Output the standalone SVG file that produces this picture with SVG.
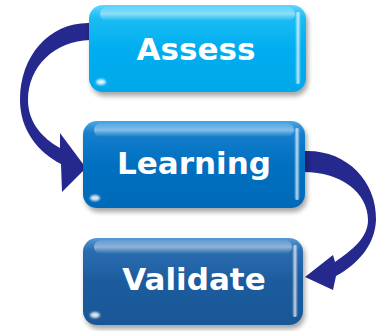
<svg xmlns="http://www.w3.org/2000/svg" width="385" height="331" viewBox="0 0 385 331">
<defs>
<style>
.lbl{font-family:"DejaVu Sans","Verdana",sans-serif;font-weight:bold;font-size:31px;fill:#fff;text-anchor:middle}
.arrow{fill:#25288c}
.shadow{fill:#000;opacity:0.35;filter:url(#blur)}
.hl{fill:url(#topHl)}
.edge{fill:url(#edgeHl)}
.spot{fill:#fff;opacity:0.85;filter:url(#blur1)}
</style>
<filter id="blur" x="-10%" y="-10%" width="120%" height="130%"><feGaussianBlur stdDeviation="2.5"/></filter>
<filter id="blur1" x="-50%" y="-50%" width="200%" height="200%"><feGaussianBlur stdDeviation="1.2"/></filter>
<linearGradient id="gA" x1="0" y1="0" x2="0" y2="1">
<stop offset="0" stop-color="#5fd6ff"/><stop offset="0.14" stop-color="#1cbcf4"/><stop offset="0.5" stop-color="#00aeef"/><stop offset="1" stop-color="#00a8ea"/>
</linearGradient>
<linearGradient id="gL" x1="0" y1="0" x2="0" y2="1">
<stop offset="0" stop-color="#4aa6e8"/><stop offset="0.14" stop-color="#147fcd"/><stop offset="0.5" stop-color="#0070c0"/><stop offset="1" stop-color="#006ab8"/>
</linearGradient>
<linearGradient id="gV" x1="0" y1="0" x2="0" y2="1">
<stop offset="0" stop-color="#5a98d8"/><stop offset="0.14" stop-color="#2a6db0"/><stop offset="0.5" stop-color="#1c5c9e"/><stop offset="1" stop-color="#195796"/>
</linearGradient>
<linearGradient id="topHl" x1="0" y1="0" x2="0" y2="1">
<stop offset="0" stop-color="#fff" stop-opacity="0.1"/><stop offset="0.5" stop-color="#fff" stop-opacity="0.45"/><stop offset="1" stop-color="#fff" stop-opacity="0"/>
</linearGradient>
<linearGradient id="edgeHl" x1="0" y1="0" x2="1" y2="0">
<stop offset="0" stop-color="#fff" stop-opacity="0"/><stop offset="0.5" stop-color="#fff" stop-opacity="0.75"/><stop offset="1" stop-color="#fff" stop-opacity="0"/>
</linearGradient>
</defs>
<g id="connectors">
<path class="arrow" d="M 90,23 C 50,22 20,55 20,100 C 20,130 38,152 61,164 L 62,192 L 86,168 L 60,133 L 60,148 C 42,138 28,122 28,100 C 28,66 55,41 90,40 Z"/>
<path class="arrow" d="M 304,151 C 345,149 377,180 376,220 C 375,245 358,264 336,276 L 333,290 L 305,277 L 333,255 L 335,262 C 352,250 368,238 368,220 C 368,192 340,172 304,172 Z"/>
</g>
<g id="assess">
<rect class="shadow" x="91" y="9" width="217" height="87" rx="14"/>
<rect x="89" y="5" width="217" height="87" rx="14" fill="url(#gA)"/>
<rect class="hl" x="100" y="7" width="195" height="14" rx="7"/>
<rect class="edge" x="295" y="12" width="6" height="72" rx="3"/>
<ellipse class="spot" cx="101" cy="82" rx="5" ry="3"/>
<text class="lbl" x="196" y="60">Assess</text>
</g>
<g id="learning">
<rect class="shadow" x="85" y="125" width="222" height="87" rx="14"/>
<rect x="83" y="121" width="222" height="87" rx="14" fill="url(#gL)"/>
<rect class="hl" x="94" y="123" width="200" height="14" rx="7"/>
<rect class="edge" x="294" y="128" width="6" height="72" rx="3"/>
<ellipse class="spot" cx="95" cy="198" rx="5" ry="3"/>
<text class="lbl" x="194" y="174">Learning</text>
</g>
<g id="validate">
<rect class="shadow" x="85" y="242" width="220" height="87" rx="14"/>
<rect x="83" y="238" width="220" height="87" rx="14" fill="url(#gV)"/>
<rect class="hl" x="94" y="240" width="198" height="14" rx="7"/>
<rect class="edge" x="292" y="245" width="6" height="72" rx="3"/>
<ellipse class="spot" cx="95" cy="315" rx="5" ry="3"/>
<text class="lbl" x="194" y="290">Validate</text>
</g>
</svg>
